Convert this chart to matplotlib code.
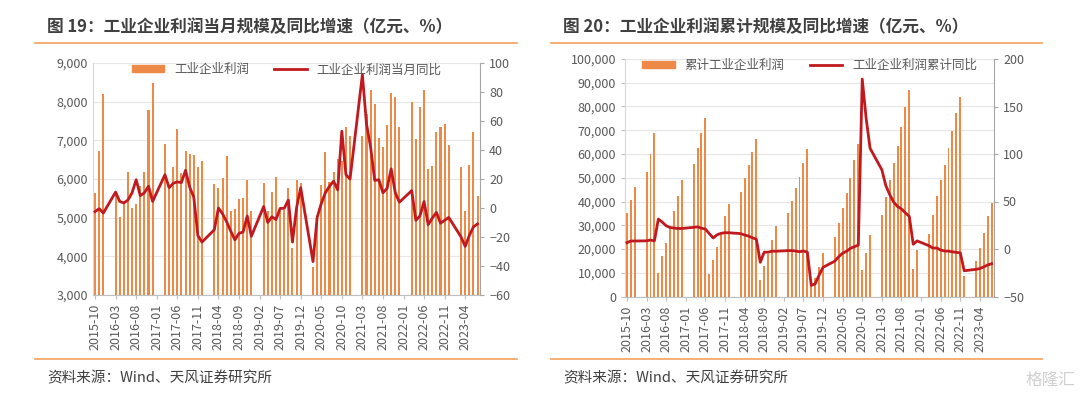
import numpy as np
import pandas as pd
import matplotlib
matplotlib.use("Agg")
import matplotlib.pyplot as plt
from matplotlib.lines import Line2D
from matplotlib.patches import Patch

plt.rcParams['font.family'] = ['Noto Sans CJK SC', 'DejaVu Sans']

nan = np.nan
# 月份槽位：2015-10 ~ 2023-07（1、2月为空）
months = [p.strftime('%Y-%m') for p in pd.period_range('2015-10', '2023-07', freq='M')]
tick_labels = ['2015-10', '2016-03', '2016-08', '2017-01', '2017-06', '2017-11', '2018-04',
               '2018-09', '2019-02', '2019-07', '2019-12', '2020-05', '2020-10', '2021-03',
               '2021-08', '2022-01', '2022-06', '2022-11', '2023-04']

# 图19 当月利润（亿元）
profit_month = (
    [5650, 6730, 8190]
    + [nan, nan, 5620, 5030, 5370, 6190, 5250, 5360, 5810, 6190, 7790, 8490]
    + [nan, nan, 6900, 5750, 6300, 7290, 6160, 6730, 6640, 6610, 6310, 6460]
    + [nan, nan, 5860, 5760, 6030, 6600, 5170, 5220, 5480, 5520, 5970, 5180]
    + [nan, nan, 5900, 5170, 5670, 6060, 5160, 5210, 5780, 4220, 5970, 5900]
    + [nan, nan, 3720, 4850, 5850, 6690, 5930, 6170, 6510, 6470, 7340, 7100]
    + [nan, nan, 7120, 7680, 8310, 7940, 7070, 6830, 7400, 8220, 8110, 7350]
    + [nan, nan, 8000, 7030, 7850, 8300, 6250, 6340, 7210, 7340, 7410, 6880]
    + [nan, nan, 6300, 5160, 6360, 7210, 5570]
)
# 当月同比（%）
yoy_month = (
    [-2.5, -0.5, -3.5]
    + [nan, nan, 11, 4.5, 3.5, 5.5, 10.5, 19.5, 8.5, 10.5, 15, 4.5]
    + [nan, nan, 23, 14, 17, 18, 17.5, 26, 14.5, 7.5, -19, -23.5]
    + [nan, nan, -15, 0, -4, -9.5, -16, -22, -17.5, -16.5, -5.5, -19.5]
    + [nan, nan, 1, -10, -6, -8, -0.3, -0.2, 5.5, -23.5, 0.2, 14]
    + [nan, nan, -37, -6.5, 3, 10.5, 15, 18.5, 12.5, 53, 23, 20]
    + [nan, nan, 92, 58, 42, 19, 19.5, 10.5, 13.5, 27, 10.5, 4]
    + [nan, nan, 12, -8.5, -5.5, 4.5, -11.5, -7, -3, -10.5, -8.5, -6.5]
    + [nan, nan, -20, -26.5, -19, -13, -11]
)

# 图20 累计利润（亿元）
profit_cum = (
    [35060, 40670, 46280]
    + [nan, nan, 52590, 60170, 68860, 10100, 17110, 22720, 28750, 36190, 42500, 49100]
    + [nan, nan, 55800, 62400, 68900, 75200, 9540, 15430, 21040, 26650, 33940, 38990]
    + [nan, nan, 44180, 49790, 55260, 61010, 66340, 7010, 12900, 18100, 23840, 29730]
    + [nan, nan, 35060, 40250, 45860, 50490, 56100, 62130, 4700, 7800, 12340, 18370]
    + [nan, nan, 24960, 31130, 37170, 43480, 50070, 57500, 64240, 11220, 18230, 25950]
    + [nan, nan, 34360, 42080, 49090, 56100, 63390, 71530, 79660, 86960, 11640, 19640]
    + [nan, nan, 26510, 34360, 42500, 49090, 55400, 62410, 69700, 77140, 83870, 8700]
    + [nan, nan, 15150, 20340, 26650, 33940, 39270]
)
# 累计同比（%）
yoy_cum = (
    [6.7, 8.4, 8.4]
    + [nan, nan, 8.6, 9.4, 8.5, 31.5, 28.3, 24.4, 22.7, 22, 21.6, 21.6]
    + [nan, nan, 22.8, 23.3, 21.9, 21, 16.1, 11.6, 15, 16.5, 17.2, 17.1]
    + [nan, nan, 16.2, 14.7, 13.6, 11.8, 10.3, -14, -3.3, -3.4, -2.3, -2.4]
    + [nan, nan, -1.7, -1.7, -2.1, -2.9, -2.1, -3.3, -38.3, -36.7, -27.4, -19.3]
    + [nan, nan, -12.8, -8.1, -4.4, -2.4, 0.7, 2.4, 4.1, 178.9, 137.3, 106]
    + [nan, nan, 83.4, 66.9, 57.3, 49.5, 44.7, 42.2, 38, 34.3, 5, 8.5]
    + [nan, nan, 3.5, 1, 1, -1.1, -2.1, -2.3, -3, -3.6, -4, -22.9]
    + [nan, nan, -21.4, -20.6, -18.8, -16.8, -15.5]
)

BAR = '#EE8A48'
LINE = '#C0191F'
GRID = '#E6E6E6'
TXT = '#595959'


def px(x, y):
    return x / 1080, 1 - y / 399


def draw_panel(rect, bars, line, ylim, yticks, y2lim, y2ticks, bar_name, line_name, left_ticklen):
    ax = fig.add_axes(rect)
    x = np.arange(len(months))
    b = np.array(bars, dtype=float)
    l = np.array(line, dtype=float)
    ax.bar(x, b, width=0.5, color=BAR, zorder=2)
    ax.set_xlim(-0.5, len(months) - 0.4)
    ax.set_ylim(*ylim)
    ax.set_yticks(yticks)
    ax.set_yticklabels([f'{v:,}' for v in yticks])
    ax.grid(axis='y', color=GRID, lw=0.8, zorder=0)
    ax.set_axisbelow(True)
    ax.set_xticks([months.index(t) for t in tick_labels])
    ax.set_xticklabels(tick_labels, rotation=90)
    ax.tick_params(axis='x', colors='#BFBFBF', labelcolor=TXT, labelsize=9, length=3)
    ax.tick_params(axis='y', colors='#BFBFBF', labelcolor=TXT, labelsize=9, length=left_ticklen)
    for s in ['top', 'right']:
        ax.spines[s].set_visible(False)
    ax.spines['left'].set_color('#D9D9D9')
    ax.spines['bottom'].set_color('#BFBFBF')

    ax2 = ax.twinx()
    m = ~np.isnan(l)
    ax2.plot(x[m], l[m], color=LINE, lw=2, solid_joinstyle='round', zorder=3)
    ax2.set_ylim(*y2lim)
    ax2.set_yticks(y2ticks)
    ax2.tick_params(axis='y', colors='#A6A6A6', labelcolor=TXT, labelsize=9, length=3)
    for s in ['top', 'left', 'bottom']:
        ax2.spines[s].set_visible(False)
    ax2.spines['right'].set_color('#A6A6A6')

    handles = [Patch(color=BAR), Line2D([], [], color=LINE, lw=2)]
    ax2.legend(handles, [bar_name, line_name], loc='upper center', bbox_to_anchor=(0.5, 1.02),
               ncol=2, frameon=False, fontsize=9, labelcolor=TXT, handlelength=2.6,
               handleheight=0.5, columnspacing=2.0, borderaxespad=0)
    return ax, ax2


fig = plt.figure(figsize=(10.8, 3.99), dpi=100)

draw_panel([93 / 1080, 1 - 295 / 399, 387 / 1080, 232 / 399], profit_month, yoy_month,
           (3000, 9000), list(range(3000, 9001, 1000)), (-60, 100), list(range(-60, 101, 20)),
           '工业企业利润', '工业企业利润当月同比', 0)
draw_panel([625 / 1080, 1 - 296.5 / 399, 369 / 1080, 237.5 / 399], profit_cum, yoy_cum,
           (0, 100000), list(range(0, 100001, 10000)), (-50, 200), list(range(-50, 201, 50)),
           '累计工业企业利润', '工业企业利润累计同比', 3)

# 标题、分隔线、来源
for x0, x1, xt, title in [(35, 517, 47, '图 19：工业企业利润当月规模及同比增速（亿元、%）'),
                          (551, 1042, 563, '图 20：工业企业利润累计规模及同比增速（亿元、%）')]:
    fig.text(*px(xt, 27), title, fontsize=12, fontweight='bold', color='#404040', va='center')
    for yl in (43, 359):
        (a, b), (c, d) = px(x0, yl), px(x1, yl)
        fig.add_artist(Line2D([a, c], [b, d], color='#F5A96B', lw=1.3))
    fig.text(*px(xt, 378), '资料来源：Wind、天风证券研究所', fontsize=10.5, color='#404040', va='center')

fig.text(*px(1075, 380), '格隆汇', fontsize=12, color='#D0D0D0', ha='right', va='center')

fig.savefig('out.png', dpi=100)
